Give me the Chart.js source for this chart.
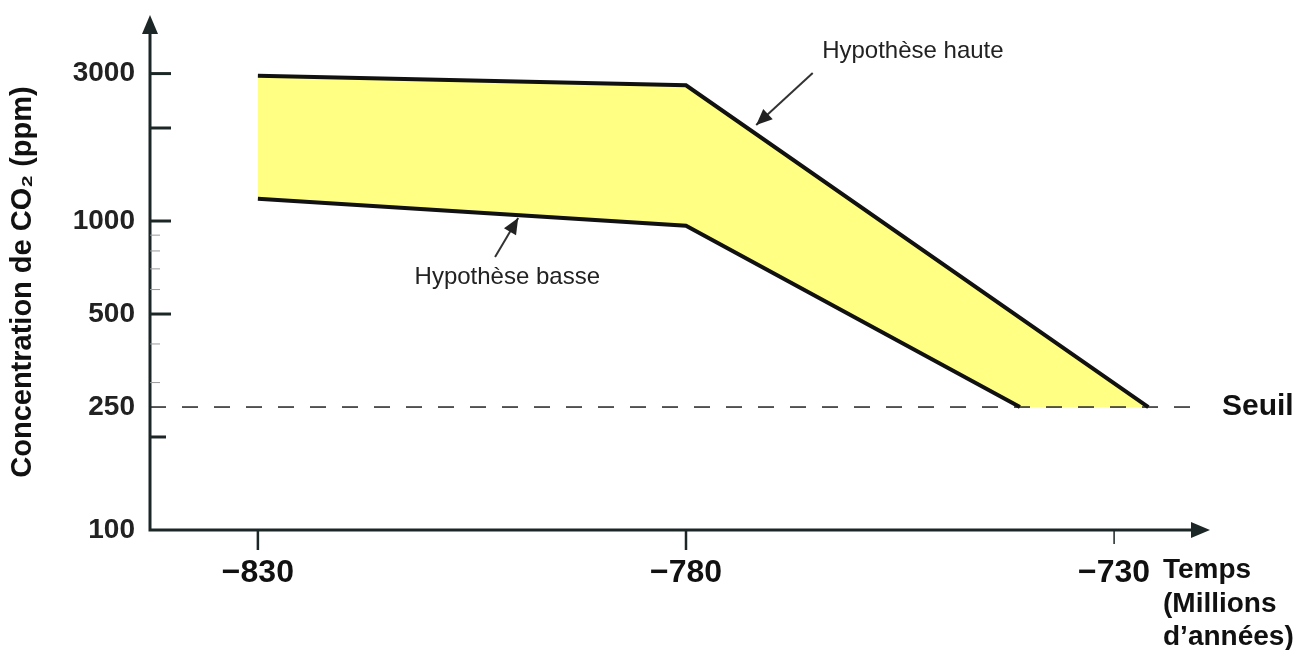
<!DOCTYPE html>
<html>
<head>
<meta charset="utf-8">
<script src="https://cdn.jsdelivr.net/npm/chart.js@4.4.1/dist/chart.umd.min.js"></script>
<style>
  html, body { margin: 0; padding: 0; background: #fff; }
  #wrap { width: 1310px; height: 650px; }
</style>
</head>
<body>
<div id="wrap"><canvas id="co2Chart"></canvas></div>
<script>
// valeurs
const timeUpper = [-830, -780, -726];
const co2Upper = [2950, 2750, 250];
const timeLower = [-830, -780, -741];
const co2Lower = [1180, 965, 250];
const seuilTime = [-842.6, -720];
const seuilCo2 = [250, 250];
const xTickValues = [-830, -780, -730];
const yLabelValues = [100, 250, 500, 1000, 3000];
const yMajorMarks = [200, 500, 1000, 2000, 3000];
const yMinorMarks = [300, 400, 600, 700, 800, 900];

// bord bas de la zone jaune : hypothèse basse puis le seuil jusqu'à la fin de l'hypothèse haute
const fillEdgeTime = timeLower.concat([timeUpper[timeUpper.length - 1]]);
const fillEdgeCo2 = co2Lower.concat([seuilCo2[0]]);

// annotations (texte + flèche), en coordonnées des données
const notes = [
    { text: 'Hypothèse haute', tx: -764.1, ty: 3370, fx: -765.2, fy: 3013, ax: -771.8, ay: 2045 },
    { text: 'Hypothèse basse', tx: -811.7, ty: 625, fx: -802.3, fy: 765, ax: -799.6, ay: 1023 }
];

const AXIS = '#1d2626';
const FONT = "'Liberation Sans', Arial, sans-serif";

function pts(xs, ys) {
    return xs.map((x, i) => ({ x: x, y: ys[i] }));
}

function arrowHead(ctx, x0, y0, x1, y1, len, half) {
    const ang = Math.atan2(y1 - y0, x1 - x0);
    ctx.beginPath();
    ctx.moveTo(x1, y1);
    ctx.lineTo(x1 - len * Math.cos(ang) + half * Math.sin(ang), y1 - len * Math.sin(ang) - half * Math.cos(ang));
    ctx.lineTo(x1 - len * Math.cos(ang) - half * Math.sin(ang), y1 - len * Math.sin(ang) + half * Math.cos(ang));
    ctx.closePath();
    ctx.fill();
}

// axes avec flèches, graduations et textes
const decor = {
    id: 'decor',
    afterDraw(chart) {
        const { ctx, chartArea: a, scales: { x, y } } = chart;
        ctx.save();

        // axes
        ctx.strokeStyle = AXIS;
        ctx.fillStyle = AXIS;
        ctx.lineWidth = 3;
        ctx.beginPath();
        ctx.moveTo(a.left, a.top + 12);
        ctx.lineTo(a.left, a.bottom);
        ctx.lineTo(a.right - 12, a.bottom);
        ctx.stroke();
        arrowHead(ctx, a.left, a.bottom, a.left, a.top, 19, 8);
        arrowHead(ctx, a.left, a.bottom, a.right, a.bottom, 19, 8);

        // graduations y (vers l'intérieur)
        yMajorMarks.forEach(v => {
            const py = y.getPixelForValue(v);
            ctx.lineWidth = 3;
            ctx.beginPath();
            ctx.moveTo(a.left, py);
            ctx.lineTo(a.left + (v === 200 ? 16 : 21), py);
            ctx.stroke();
        });
        ctx.strokeStyle = '#9a9a9a';
        ctx.lineWidth = 1;
        yMinorMarks.forEach(v => {
            const py = y.getPixelForValue(v);
            ctx.beginPath();
            ctx.moveTo(a.left, py);
            ctx.lineTo(a.left + 10, py);
            ctx.stroke();
        });

        // graduations x (vers le bas)
        ctx.strokeStyle = AXIS;
        xTickValues.forEach((v, i) => {
            const px = x.getPixelForValue(v);
            ctx.lineWidth = i === 2 ? 1.5 : 2.5;
            ctx.beginPath();
            ctx.moveTo(px, a.bottom);
            ctx.lineTo(px, a.bottom + (i === 2 ? 14 : 20));
            ctx.stroke();
        });

        // annotations
        ctx.strokeStyle = '#333';
        ctx.fillStyle = '#222';
        ctx.lineWidth = 2;
        ctx.font = '24px ' + FONT;
        ctx.textBaseline = 'alphabetic';
        ctx.textAlign = 'left';
        notes.forEach(n => {
            const x0 = x.getPixelForValue(n.fx), y0 = y.getPixelForValue(n.fy);
            const x1 = x.getPixelForValue(n.ax), y1 = y.getPixelForValue(n.ay);
            ctx.beginPath();
            ctx.moveTo(x0, y0);
            ctx.lineTo(x1, y1);
            ctx.stroke();
            arrowHead(ctx, x0, y0, x1, y1, 16, 7);
            ctx.fillText(n.text, x.getPixelForValue(n.tx), y.getPixelForValue(n.ty));
        });

        // Seuil
        ctx.fillStyle = '#111';
        ctx.font = 'bold 30px ' + FONT;
        ctx.textBaseline = 'middle';
        ctx.fillText('Seuil', a.right + 12, y.getPixelForValue(250));

        // titre de l'axe x
        ctx.font = 'bold 28px ' + FONT;
        ctx.textBaseline = 'alphabetic';
        ctx.fillText('Temps', a.right - 47, a.bottom + 48);
        ctx.fillText('(Millions', a.right - 47, a.bottom + 82);
        ctx.fillText('d\u2019ann\u00e9es)', a.right - 47, a.bottom + 115);

        // titre de l'axe y
        ctx.save();
        ctx.translate(23, 282);
        ctx.rotate(-Math.PI / 2);
        ctx.textAlign = 'center';
        ctx.textBaseline = 'middle';
        ctx.font = 'bold 29px ' + FONT;
        ctx.fillText('Concentration de CO\u2082 (ppm)', 0, 0);
        ctx.restore();

        ctx.restore();
    }
};

new Chart(document.getElementById('co2Chart'), {
    type: 'line',
    data: {
        datasets: [
            {
                label: 'Hypothèse haute',
                data: pts(timeUpper, co2Upper),
                borderColor: '#111',
                borderWidth: 4,
                backgroundColor: '#ffff84',
                fill: 2,
                pointRadius: 0,
                tension: 0
            },
            {
                label: 'Hypothèse basse',
                data: pts(timeLower, co2Lower),
                borderColor: '#111',
                borderWidth: 4,
                fill: false,
                pointRadius: 0,
                tension: 0
            },
            {
                label: 'bord',
                data: pts(fillEdgeTime, fillEdgeCo2),
                borderWidth: 0,
                borderColor: 'rgba(0,0,0,0)',
                fill: false,
                pointRadius: 0,
                tension: 0
            },
            {
                label: 'Seuil',
                data: pts(seuilTime, seuilCo2),
                borderColor: '#222',
                borderWidth: 1.5,
                borderDash: [16, 16],
                fill: false,
                pointRadius: 0
            }
        ]
    },
    options: {
        responsive: true,
        maintainAspectRatio: false,
        animation: false,
        layout: { padding: { top: 15, right: 100, left: 0, bottom: 0 } },
        plugins: {
            legend: { display: false },
            tooltip: { enabled: false },
            filler: { drawTime: 'beforeDatasetsDraw' }
        },
        scales: {
            x: {
                type: 'linear',
                min: -842.6,
                max: -718.8,
                afterBuildTicks: s => { s.ticks = xTickValues.map(v => ({ value: v })); },
                afterFit: s => { s.height = 120; s.paddingLeft = 0; s.paddingRight = 0; },
                grid: { display: false, drawTicks: false },
                border: { display: false },
                ticks: {
                    autoSkip: false,
                    maxRotation: 0,
                    padding: 24,
                    color: '#111',
                    font: { family: "'Liberation Sans Narrow', " + FONT, size: 32, weight: 'bold' },
                    callback: v => '\u2212' + Math.abs(v)
                }
            },
            y: {
                type: 'logarithmic',
                min: 100,
                max: 4642,
                afterBuildTicks: s => { s.ticks = yLabelValues.map(v => ({ value: v })); },
                afterFit: s => { s.width = 150; s.paddingTop = 0; s.paddingBottom = 0; },
                grid: { display: false, drawTicks: false },
                border: { display: false },
                ticks: {
                    autoSkip: false,
                    padding: 15,
                    color: '#222',
                    font: { family: FONT, size: 28, weight: 'bold' },
                    callback: v => String(v)
                }
            }
        }
    },
    plugins: [decor]
});
</script>
</body>
</html>
